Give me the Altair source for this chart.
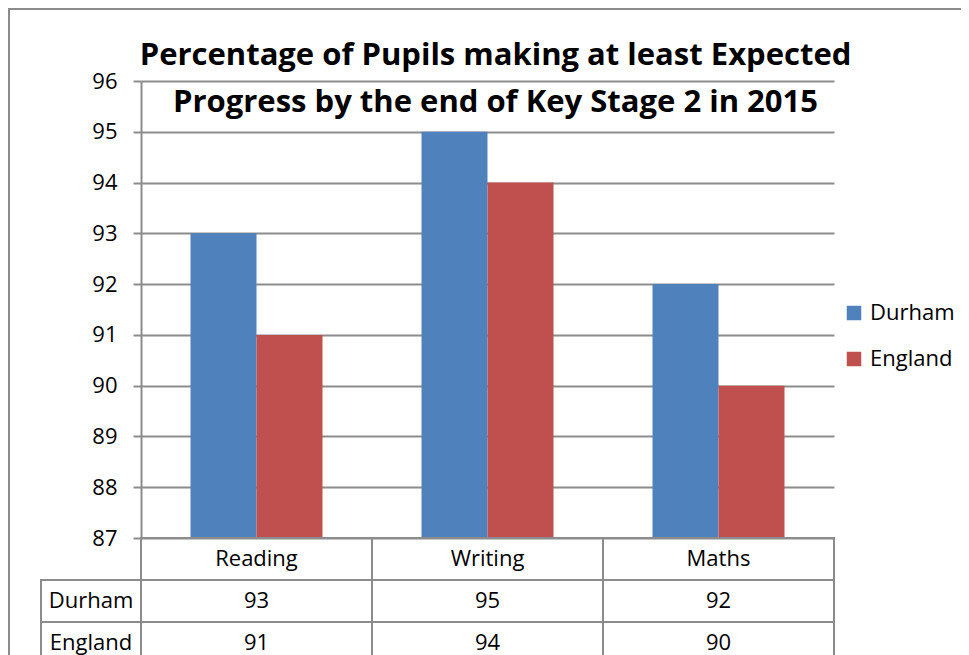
import altair as alt
import pandas as pd

# ---- data ----
categories = ["Reading", "Writing", "Maths"]
series = ["Durham", "England"]
durham = [93, 95, 92]
england = [91, 94, 90]
y_ticks = [87, 88, 89, 90, 91, 92, 93, 94, 95, 96]
title_lines = [
    "Percentage of Pupils making at least Expected",
    "Progress by the end of Key Stage 2 in 2015",
]
colors = ["#4F81BD", "#C0504D"]

# ---- layout / style constants ----
W, H = 693, 457          # plot area
ROW = 42                 # data-table row height
LABEL_W = 100            # data-table label column width
FONT = "Open Sans"
GRID = "#8C8C8C"
FS = 22

bars_df = pd.DataFrame({
    "category": categories * 2,
    "series": [series[0]] * 3 + [series[1]] * 3,
    "value": durham + england,
})

rows = ["header"] + series
table_df = pd.DataFrame({
    "category": categories * 3,
    "row": ["header"] * 3 + [series[0]] * 3 + [series[1]] * 3,
    "label": categories + [str(v) for v in durham] + [str(v) for v in england],
})
label_df = pd.DataFrame({"row": series})
frame_df = pd.DataFrame({"k": [0]})

xscale = alt.Scale(domain=categories, paddingInner=0, paddingOuter=0)
xenc = alt.X("category:N", scale=xscale, axis=None, sort=categories)
row_scale = alt.Scale(domain=rows, range=[H, H + 3 * ROW], paddingInner=0, paddingOuter=0)
yrow = alt.Y("row:N", scale=row_scale, axis=None, sort=rows)

frame = alt.Chart(frame_df).mark_rect(
    fill="transparent", stroke=GRID, strokeWidth=2, clip=False
).encode(
    x=alt.value(-132), x2=alt.value(W + 400),
    y=alt.value(-72), y2=alt.value(H + 400),
)

bars = alt.Chart(bars_df).mark_bar().encode(
    x=xenc,
    xOffset=alt.XOffset("series:N", sort=series,
                        scale=alt.Scale(domain=series, paddingInner=0, paddingOuter=0.75)),
    y=alt.Y("value:Q",
            scale=alt.Scale(domain=[87, 96], zero=False, nice=False),
            axis=alt.Axis(values=y_ticks, grid=True, gridColor=GRID, gridWidth=2,
                          domainColor=GRID, domainWidth=2, tickColor=GRID, tickWidth=2,
                          tickSize=8, labelFontSize=FS, labelFont=FONT, labelColor="black",
                          labelPadding=16, title=None, format="d")),
    y2=alt.datum(87),
    color=alt.Color("series:N", sort=series,
                    scale=alt.Scale(domain=series, range=colors),
                    legend=alt.Legend(orient="none", legendX=702, legendY=221, title=None,
                                      symbolType="square", symbolSize=210,
                                      symbolStrokeWidth=0, labelFontSize=FS,
                                      labelFont=FONT, labelColor="black",
                                      rowPadding=24, labelOffset=5, padding=0)),
)

cells = alt.Chart(table_df).mark_rect(
    fill="transparent", stroke=GRID, strokeWidth=2
).encode(x=xenc, y=yrow)

cell_text = alt.Chart(table_df).mark_text(
    font=FONT, fontSize=FS, color="black", align="center", baseline="middle"
).encode(x=xenc, y=yrow, text="label:N")

label_cells = alt.Chart(label_df).mark_rect(
    fill="transparent", stroke=GRID, strokeWidth=2, clip=False
).encode(x=alt.value(-LABEL_W), x2=alt.value(0), y=yrow)

label_text = alt.Chart(label_df).mark_text(
    font=FONT, fontSize=FS, color="black", align="center", baseline="middle"
).encode(x=alt.value(-LABEL_W / 2), y=yrow, text="row:N")

chart = alt.layer(
    frame, bars, cells, cell_text, label_cells, label_text
).resolve_scale(y="independent").properties(
    width=W, height=H,
    padding={"left": 133, "top": 73, "right": 127, "bottom": 117},
    autosize=alt.AutoSizeParams(type="none"),
    title=alt.TitleParams(text=title_lines, font=FONT, fontSize=31, fontWeight="bold",
                          color="black", lineHeight=47, anchor="middle", dx=8,
                          offset=-111),
).configure_view(stroke=None)

chart.save("out.html", embed_options={"renderer": "svg", "actions": False})
